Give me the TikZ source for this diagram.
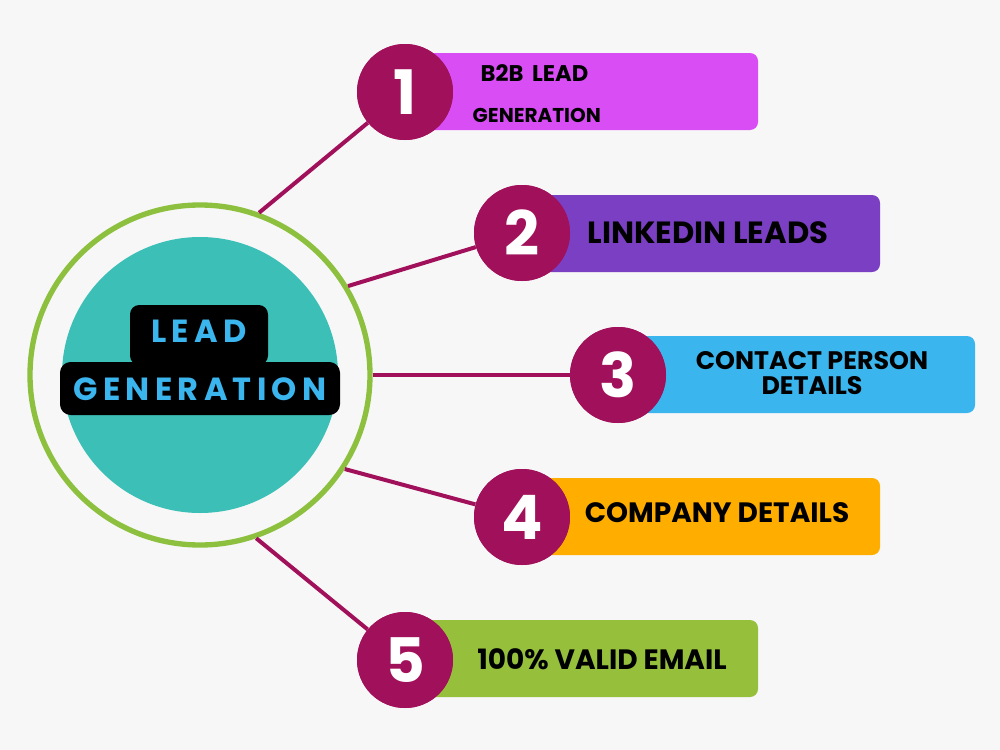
\documentclass[tikz,border=0pt]{standalone}
\usepackage{fontspec}
\setmainfont{Poppins}
\definecolor{bg}{HTML}{F7F7F7}
\definecolor{ring}{HTML}{8DC03F}
\definecolor{teal}{HTML}{3BBFB6}
\definecolor{maroon}{HTML}{A1105A}
\definecolor{cmag}{HTML}{D94DF5}
\definecolor{cpur}{HTML}{7B3FC4}
\definecolor{cblue}{HTML}{3BB5EE}
\definecolor{cora}{HTML}{FFAE00}
\definecolor{cgrn}{HTML}{96C03C}
\begin{document}
\begin{tikzpicture}[x=0.75pt,y=-0.75pt,
  num/.style={circle,fill=maroon,minimum size=96pt*0.75,inner sep=0,text=white,font=\bfseries\fontsize{46}{46}\selectfont},
  bar/.style={rounded corners=6pt},
  btxt/.style={font=\bfseries\fontsize{21}{22}\selectfont,align=center},
  conn/.style={maroon,line width=3pt}]
\fill[bg] (0,0) rectangle (1000,750);
% bars
\fill[bar,cmag] (420,53) rectangle (758,130);
\fill[bar,cpur] (540,195) rectangle (880,272);
\fill[bar,cblue] (630,336) rectangle (975,413);
\fill[bar,cora] (540,478) rectangle (880,555);
\fill[bar,cgrn] (420,620) rectangle (758,697);
% central
\node[circle,draw=ring,line width=4pt,fill=bg,minimum size=340pt*0.75,inner sep=0] (c) at (200,375) {};
\fill[teal] (200,375) circle (138);
\node[num] (n1) at (405,92) {};
\node[num] (n2) at (522,233) {};
\node[num] (n3) at (618,375) {};
\node[num] (n4) at (522,517) {};
\node[num] (n5) at (405,660) {};
\draw[conn] (c.70) -- (n1);
\draw[conn] (c.31) -- (n2);
\draw[conn] (c.0) -- (n3);
\draw[conn] (c.-33) -- (n4);
\draw[conn] (c.-71) -- (n5);
\node[num] (m1) at (405,92) {1};
\node[num] (m2) at (522,233) {2};
\node[num] (m3) at (618,375) {3};
\node[num] (m4) at (522,517) {4};
\node[num] (m5) at (405,660) {5};
% label
\fill[black,rounded corners=7pt] (130,305) rectangle (268,365);
\fill[black,rounded corners=8pt] (60,362) rectangle (340,415);
\node[text=cblue,font=\bfseries\fontsize{24}{24}\selectfont] (l1) at (199,331) {L\,E\,A\,D};
\node[text=cblue,font=\bfseries\fontsize{24}{24}\selectfont] (l2) at (200,389) {G\,E\,N\,E\,R\,A\,T\,I\,O\,N};
% texts
\node[font=\bfseries\fontsize{17}{17}\selectfont,anchor=west] (t1a) at (476,73) {B2B\, LEAD};
\node[font=\bfseries\fontsize{15}{15}\selectfont,anchor=west] (t1b) at (468,115) {GENERATION};
\node[btxt,font=\bfseries\fontsize{23}{24}\selectfont] (t2) at (708,233) {LINKEDIN LEADS};
\node[btxt,font=\bfseries\fontsize{19}{19}\selectfont] (t3) at (812,373) {CONTACT PERSON\\DETAILS};
\node[btxt,font=\bfseries\fontsize{21}{24}\selectfont] (t4) at (717,513) {COMPANY DETAILS};
\node[btxt,font=\bfseries\fontsize{21}{22}\selectfont] (t5) at (602,659) {100\% VALID EMAIL};
\end{tikzpicture}
\end{document}
